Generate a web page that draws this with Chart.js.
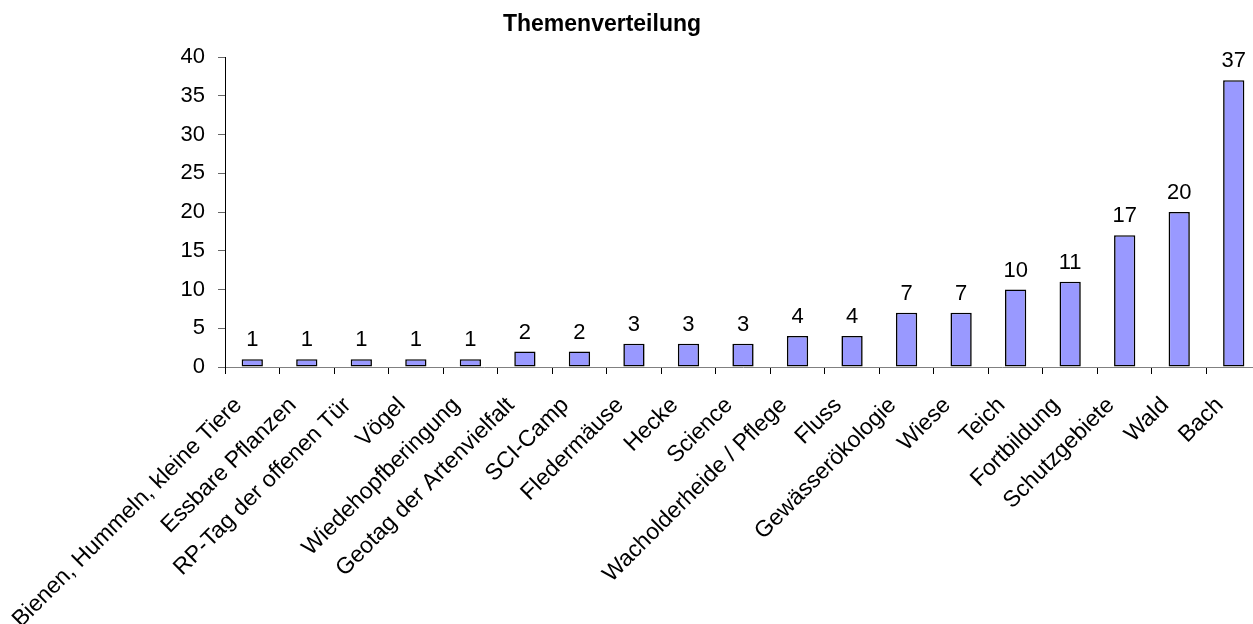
<!DOCTYPE html>
<html>
<head>
<meta charset="utf-8">
<script src="https://cdn.jsdelivr.net/npm/chart.js@4/dist/chart.umd.min.js"></script>
<style>
html, body { margin: 0; padding: 0; background: #fff; overflow: hidden; }
</style>
</head>
<body>
<canvas id="themen" width="1262" height="624"></canvas>
<script>
var themen = ['Bienen, Hummeln, kleine Tiere', 'Essbare Pflanzen', 'RP-Tag der offenen Tür', 'Vögel',
  'Wiedehopfberingung', 'Geotag der Artenvielfalt', 'SCI-Camp', 'Fledermäuse', 'Hecke', 'Science',
  'Wacholderheide / Pflege', 'Fluss', 'Gewässerökologie', 'Wiese', 'Teich', 'Fortbildung',
  'Schutzgebiete', 'Wald', 'Bach'];
var anzahl = [1, 1, 1, 1, 1, 2, 2, 3, 3, 3, 4, 4, 7, 7, 10, 11, 17, 20, 37];
var yTicks = [0, 5, 10, 15, 20, 25, 30, 35, 40];
var titel = 'Themenverteilung';

var FONT = '"Liberation Sans", Arial, sans-serif';

// title and value labels drawn by hand (no datalabels plugin available)
var extras = {
  id: 'extras',
  afterDatasetsDraw: function(chart) {
    var ctx = chart.ctx;
    ctx.save();
    ctx.fillStyle = '#000';
    ctx.font = '22px ' + FONT;
    ctx.textAlign = 'center';
    ctx.textBaseline = 'alphabetic';
    chart.getDatasetMeta(0).data.forEach(function(bar, i) {
      ctx.fillText(String(anzahl[i]), bar.x, bar.y - 13);
    });
    ctx.font = 'bold 23px ' + FONT;
    ctx.fillText(titel, 602, 31);
    ctx.restore();
  }
};

var ctx = document.getElementById("themen").getContext('2d');
var themenChart = new Chart(ctx, {
  type: 'bar',
  data: {
    labels: themen,
    datasets: [{
      data: anzahl,
      backgroundColor: '#9999FF',
      borderColor: '#000',
      borderWidth: 1.6,
      borderSkipped: false,
      barPercentage: 0.39,
      categoryPercentage: 1
    }]
  },
  options: {
    responsive: false,
    animation: false,
    layout: { padding: { top: 57, right: 1, left: 0, bottom: 0 } },
    plugins: {
      legend: { display: false },
      tooltip: { enabled: false },
      title: { display: false }
    },
    scales: {
      x: {
        offset: true,
        grid: { offset: true, drawOnChartArea: false, drawTicks: true, tickLength: 7, color: '#000' },
        border: { color: '#808080', width: 1 },
        ticks: {
          autoSkip: false, minRotation: 45, maxRotation: 45, padding: 18, labelOffset: -14,
          color: '#000', font: { family: FONT, size: 23 }
        },
        afterFit: function(scale) {
          scale.height = 257;
          scale.paddingRight = 0;
        }
      },
      y: {
        min: 0,
        max: 40,
        afterBuildTicks: function(scale) {
          scale.ticks = yTicks.map(function(v) { return { value: v }; });
        },
        grid: { drawOnChartArea: false, drawTicks: true, tickLength: 7, color: '#666' },
        border: { color: '#000', width: 1 },
        ticks: { padding: 13, color: '#000', font: { family: FONT, size: 22 } },
        afterFit: function(scale) { scale.width = 225; }
      }
    }
  },
  plugins: [extras]
});
</script>
</body>
</html>
